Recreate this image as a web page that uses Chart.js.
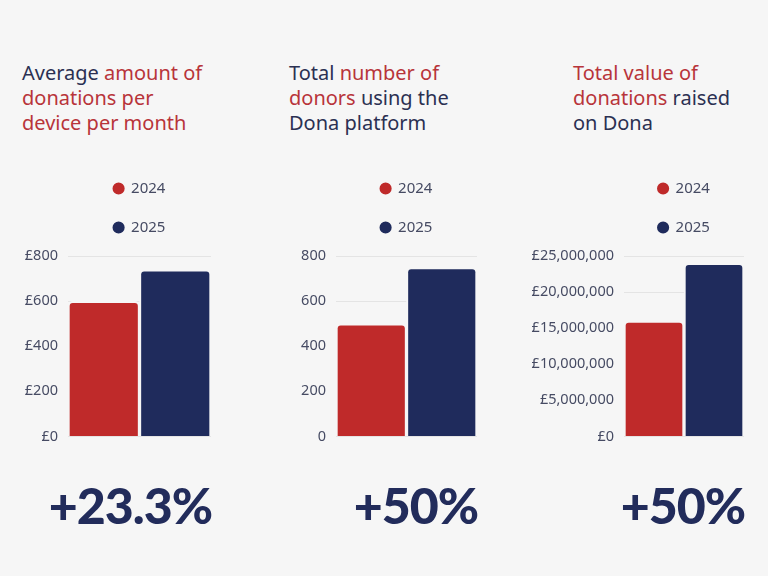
<!DOCTYPE html>
<html>
<head>
<meta charset="utf-8">
<script src="https://cdn.jsdelivr.net/npm/chart.js@4/dist/chart.umd.min.js"></script>
<style>
  html, body { margin: 0; padding: 0; }
  body { width: 768px; height: 576px; background: #f6f6f6; position: relative; overflow: hidden; font-family: "Noto Sans", sans-serif; }
  .title { position: absolute; top: 60px; font-size: 20px; line-height: 25px; color: #2b3052; white-space: nowrap; }
  .title .hl { color: #b8343a; }
  .pct { position: absolute; top: 473px; width: 220px; text-align: right; font-family: Lato, sans-serif; font-weight: 900; font-size: 50px; line-height: 64px; color: #222c5b; letter-spacing: -1px; }
  .box { position: absolute; top: 150px; height: 308px; }
</style>
</head>
<body>
<div class="title" style="left:22px">Average <span class="hl">amount of<br>donations per<br>device per month</span></div>
<div class="title" style="left:289px">Total <span class="hl">number of<br>donors</span> using the<br>Dona platform</div>
<div class="title" style="left:573px"><span class="hl">Total value of<br>donations</span> raised<br>on Dona</div>

<div class="box" style="left:0px;width:211px"><canvas id="c1"></canvas></div>
<div class="box" style="left:270px;width:207px"><canvas id="c2"></canvas></div>
<div class="box" style="left:520px;width:224px"><canvas id="c3"></canvas></div>

<div class="pct" style="left:-8px">+23.3%</div>
<div class="pct" style="left:258px">+50%</div>
<div class="pct" style="left:525px">+50%</div>

<script>
const years = ['2024', '2025'];
const avgDonationPerDevice = [600, 740];
const totalDonors = [500, 750];
const totalValueRaised = [16000000, 24000000];
const changeLabels = ['+23.3%', '+50%', '+50%'];

const yearColors = ['#bf2a2a', '#1f2b5c'];
const axisText = '#464b63';

function gbp(v) { return '£' + Number(v).toLocaleString('en-GB'); }
function plain(v) { return Number(v).toLocaleString('en-GB'); }

function makeChart(id, values, max, step, fmt, axisWidth) {
  new Chart(document.getElementById(id), {
    type: 'bar',
    data: {
      labels: [''],
      datasets: years.map((y, i) => ({
        label: y,
        data: [values[i]],
        backgroundColor: yearColors[i],
        borderColor: '#f6f6f6',
        borderWidth: 2,
        borderRadius: 5,
        borderSkipped: 'bottom'
      }))
    },
    options: {
      responsive: true,
      maintainAspectRatio: false,
      animation: false,
      layout: { padding: { top: 7, left: 0, right: 0, bottom: 0 } },
      plugins: {
        tooltip: { enabled: false },
        subtitle: {
          display: true,
          text: ' ',
          position: 'top',
          weight: 500,
          fullSize: false,
          font: { size: 1 },
          padding: { top: 0, bottom: 10 }
        },
        legend: {
          display: true,
          position: 'top',
          fullSize: false,
          align: 'center',
          labels: {
            usePointStyle: true,
            pointStyle: 'circle',
            boxWidth: 10,
            boxHeight: 10,
            padding: 24,
            color: axisText,
            font: { family: 'Noto Sans', size: 15 }
          }
        }
      },
      datasets: { bar: { categoryPercentage: 1, barPercentage: 1 } },
      scales: {
        x: { display: false },
        y: {
          min: 0, max: max,
          border: { display: false },
          grid: { color: '#e4e4e4', drawTicks: false, lineWidth: 1 },
          afterFit: s => { s.width = axisWidth; },
          ticks: {
            stepSize: step,
            padding: 10,
            color: axisText,
            font: { family: 'Noto Sans', size: 14.5, lineHeight: 1.6 },
            callback: v => fmt(v)
          }
        }
      }
    }
  });
}

makeChart('c1', avgDonationPerDevice, 800, 200, gbp, 68);
makeChart('c2', totalDonors, 800, 200, plain, 66);
makeChart('c3', totalValueRaised, 25000000, 5000000, gbp, 104);
</script>
</body>
</html>
